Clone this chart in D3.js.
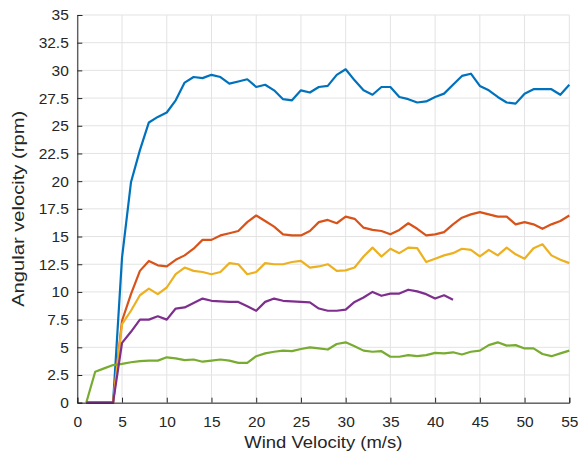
<!DOCTYPE html>
<html><head><meta charset="utf-8">
<script src="https://cdn.jsdelivr.net/npm/d3@7"></script>
<style>body{margin:0;background:#fff}svg{display:block}text{font-family:"Liberation Sans",Arial,sans-serif}</style>
</head><body>
<svg id="c" width="585" height="455"></svg>
<script>
const windSpeed = d3.range(1, 56);
const xTicks = [0,5,10,15,20,25,30,35,40,45,50,55];
const yTicks = [0,2.5,5,7.5,10,12.5,15,17.5,20,22.5,25,27.5,30,32.5,35];
const yTickLabels = ["0","2.5","5","7.5","10","12.5","15","17.5","20","22.5","25","27.5","30","32.5","35"];

const blue = [0,0,0,0,13.1,19.9,22.8,25.3,25.8,26.2,27.3,28.9,29.4,29.3,29.6,29.4,28.8,29.0,29.2,28.5,28.7,28.2,27.4,27.3,28.2,28.0,28.5,28.6,29.6,30.1,29.1,28.2,27.8,28.5,28.5,27.6,27.4,27.1,27.2,27.6,27.9,28.7,29.5,29.7,28.6,28.2,27.6,27.1,27.0,27.9,28.3,28.3,28.3,27.8,28.7];
const red = [0,0,0,0,7.4,9.8,11.9,12.8,12.4,12.3,12.9,13.3,13.9,14.7,14.7,15.1,15.3,15.5,16.3,16.9,16.4,15.9,15.2,15.1,15.1,15.5,16.3,16.5,16.2,16.8,16.6,15.8,15.6,15.5,15.2,15.6,16.2,15.7,15.1,15.2,15.4,16.1,16.7,17.0,17.2,17.0,16.8,16.8,16.1,16.3,16.1,15.7,16.1,16.4,16.9];
const yellow = [0,0,0,0,7.1,8.3,9.7,10.3,9.8,10.4,11.6,12.2,11.9,11.8,11.6,11.8,12.6,12.5,11.6,11.8,12.6,12.5,12.5,12.7,12.8,12.2,12.3,12.5,11.9,11.95,12.2,13.2,14.0,13.2,13.9,13.5,14.0,13.95,12.7,13.0,13.3,13.5,13.9,13.8,13.2,13.8,13.3,14.0,13.4,13.0,13.95,14.3,13.3,12.9,12.6];
const purple = [0,0,0,0,5.4,6.4,7.5,7.5,7.8,7.5,8.5,8.6,9.0,9.4,9.2,9.15,9.1,9.1,8.7,8.3,9.1,9.4,9.2,9.15,9.1,9.05,8.5,8.3,8.3,8.4,9.1,9.5,10.0,9.65,9.85,9.85,10.2,10.05,9.8,9.4,9.7,9.3];
const green = [0,2.8,3.1,3.4,3.5,3.65,3.75,3.8,3.8,4.1,4.0,3.85,3.9,3.7,3.8,3.9,3.8,3.6,3.6,4.2,4.45,4.6,4.7,4.65,4.85,5.0,4.9,4.8,5.3,5.45,5.1,4.7,4.6,4.65,4.15,4.15,4.3,4.2,4.3,4.5,4.45,4.55,4.35,4.6,4.7,5.2,5.45,5.15,5.2,4.9,4.9,4.4,4.2,4.45,4.7];

const seriesList = [
  {values: blue, color: "#0072BD"},
  {values: red, color: "#D95319"},
  {values: yellow, color: "#EDB120"},
  {values: green, color: "#77AC30"},
  {values: purple, color: "#7E2F8E"}
];

const svg = d3.select("#c");
const L = 77.3, R = 569.3, T = 15, B = 402.7;
const x = d3.scaleLinear().domain([0,55]).range([L,R]);
const y = d3.scaleLinear().domain([0,35]).range([B,T]);

// grid
const g = svg.append("g");
g.selectAll(".vx").data(xTicks).enter().append("line")
  .attr("x1", d=>x(d)).attr("x2", d=>x(d)).attr("y1", T).attr("y2", B)
  .attr("stroke", "#e3e3e3").attr("stroke-width", 1);
g.selectAll(".hy").data(yTicks).enter().append("line")
  .attr("x1", L).attr("x2", R).attr("y1", d=>y(d)).attr("y2", d=>y(d))
  .attr("stroke", "#e3e3e3").attr("stroke-width", 1);

// lines
const line = d3.line().x((d,i)=>x(windSpeed[i])).y(d=>y(d));
seriesList.forEach(s=>{
  svg.append("path").datum(s.values).attr("d", line)
    .attr("fill","none").attr("stroke", s.color).attr("stroke-width", 2.2)
    .attr("stroke-linejoin","round");
});

// axes
const xAxis = d3.axisBottom(x).tickValues(xTicks).tickSize(-5).tickPadding(13.5).tickFormat(d3.format("d"));
const yAxis = d3.axisLeft(y).tickValues(yTicks).tickSize(-5).tickPadding(8.5).tickFormat((d,i)=>yTickLabels[i]);
const ax = svg.append("g").attr("transform", `translate(0,${B})`).call(xAxis);
const ay = svg.append("g").attr("transform", `translate(${L},0)`).call(yAxis);
[ax, ay].forEach(a=>{
  a.select(".domain").attr("stroke","#262626").attr("stroke-width",1);
  a.selectAll(".tick line").attr("stroke","#262626");
  a.selectAll(".tick text").attr("fill","#262626").style("font-size","15.5px");
});

svg.append("text").attr("x", (L+R)/2).attr("y", 448.3).attr("text-anchor","middle")
  .attr("fill","#262626").style("font-size","16.5px")
  .attr("textLength", 158).attr("lengthAdjust","spacingAndGlyphs").text("Wind Velocity (m/s)");
svg.append("text").attr("transform", `translate(23.5,${(T+B)/2}) rotate(-90)`).attr("text-anchor","middle")
  .attr("fill","#262626").style("font-size","16.5px")
  .attr("textLength", 196).attr("lengthAdjust","spacingAndGlyphs").text("Angular velocity (rpm)");
</script>
</body></html>
